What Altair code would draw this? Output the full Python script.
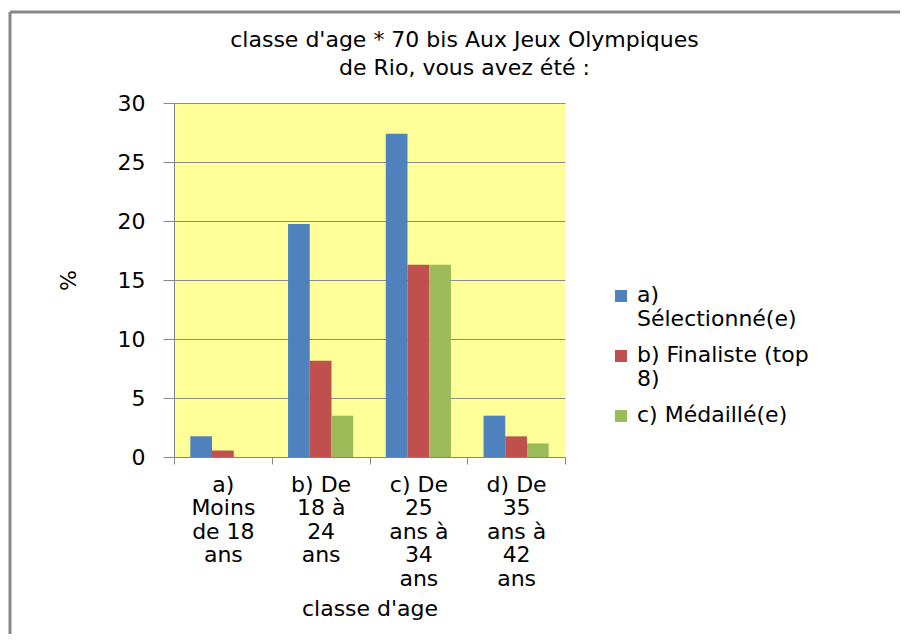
import altair as alt
import pandas as pd

# ---- data ----
categories = [
    "a)\nMoins\nde 18\nans",
    "b) De\n18 à\n24\nans",
    "c) De\n25\nans à\n34\nans",
    "d) De\n35\nans à\n42\nans",
]
series = ["a)\nSélectionné(e)", "b) Finaliste (top\n8)", "c) Médaillé(e)"]
selectionne = [1.75, 19.75, 27.4, 3.5]
finaliste = [0.55, 8.15, 16.3, 1.75]
medaille = [0.0, 3.5, 16.3, 1.15]
colors = ["#4F81BD", "#C0504D", "#9BBB59"]
y_ticks = [0, 5, 10, 15, 20, 25, 30]
title_lines = ["classe d'age * 70 bis Aux Jeux Olympiques", "de Rio, vous avez été :"]
x_title = "classe d'age"
y_title = "%"

rows = []
for s, vals in zip(series, [selectionne, finaliste, medaille]):
    for c, v in zip(categories, vals):
        rows.append({"classe": c, "serie": s, "pct": v})
df = pd.DataFrame(rows)

FONT = "DejaVu Sans"
FS = 22

bars = alt.Chart(df).mark_bar().encode(
    x=alt.X(
        "classe:N",
        sort=categories,
        scale=alt.Scale(paddingInner=0, paddingOuter=0),
        axis=alt.Axis(
            title=x_title,
            labelExpr="split(datum.label, '\\n')",
            labelAngle=0,
            labelFontSize=FS,
            labelFont=FONT,
            labelColor="black",
            labelLineHeight=23.5,
            labelBaseline="top",
            labelPadding=10,
            labelLimit=0,
            tickBand="extent",
            tickSize=7,
            tickColor="#868686",
            domainColor="#868686",
            titleFont=FONT,
            titleFontSize=FS,
            titleFontWeight="normal",
            titleColor="black",
            titlePadding=9,
            grid=False,
        ),
    ),
    xOffset=alt.XOffset("serie:N", sort=series, scale=alt.Scale(paddingOuter=0.75, paddingInner=0)),
    y=alt.Y(
        "pct:Q",
        scale=alt.Scale(domain=[0, 30], nice=False),
        axis=alt.Axis(
            title=y_title,
            values=y_ticks,
            labelFontSize=FS,
            labelFont=FONT,
            labelColor="black",
            labelPadding=18,
            tickSize=11,
            tickColor="#868686",
            domainColor="#868686",
            gridColor="#8C8C8C",
            grid=True,
            titleFont=FONT,
            titleFontSize=FS,
            titleFontWeight="normal",
            titleColor="black",
            titlePadding=37,
        ),
    ),
    color=alt.Color(
        "serie:N",
        sort=series,
        scale=alt.Scale(domain=series, range=colors),
        legend=alt.Legend(
            title=None,
            orient="none",
            legendX=436,
            legendY=188,
            symbolType="M-1,-2H1V0H-1Z",
            symbolSize=144,
            symbolStrokeWidth=0,
            labelExpr="split(datum.label, '\\n')",
            labelFont=FONT,
            labelFontSize=FS,
            labelColor="black",
            labelBaseline="alphabetic",
            labelLimit=0,
            labelOffset=5,
            rowPadding=14,
        ),
    ),
)

frame_top = alt.Chart(pd.DataFrame({"k": [0]})).mark_rule(color="#888888", strokeWidth=3).encode(
    x=alt.value(-164), x2=alt.value(740), y=alt.value(-91)
)
frame_left = alt.Chart(pd.DataFrame({"k": [0]})).mark_rule(color="#888888", strokeWidth=3).encode(
    x=alt.value(-164), y=alt.value(-91), y2=alt.value(540)
)

chart = alt.layer(bars, frame_top, frame_left).properties(
    width=391,
    height=354,
    background="white",
    autosize=alt.AutoSizeParams(type="none"),
    padding={"left": 166, "top": 95, "right": 335, "bottom": 177},
    title=alt.TitleParams(
        text=title_lines,
        font=FONT,
        fontSize=FS,
        fontWeight="normal",
        color="black",
        anchor="middle",
        frame="group",
        dx=95,
        offset=-69,
        lineHeight=28,
    ),
).configure_view(fill="#FFFF99", stroke=None)

chart.save("out.html", embed_options={"renderer": "svg", "actions": False})
